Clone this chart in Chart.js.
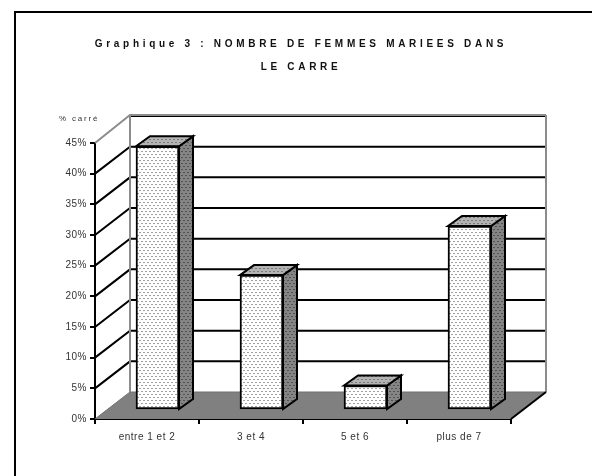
<!DOCTYPE html>
<html>
<head>
<meta charset="utf-8">
<title>Graphique 3</title>
<script src="https://cdn.jsdelivr.net/npm/chart.js@4"></script>
<style>
  html, body { margin: 0; background: #fff; }
  canvas { display: block; }
</style>
</head>
<body>
<canvas id="chart" width="592" height="476"></canvas>
<script>
const categories = ["entre 1 et 2", "3 et 4", "5 et 6", "plus de 7"];
const percents = [43, 22, 4, 30];
const yTickLabels = ["0%", "5%", "10%", "15%", "20%", "25%", "30%", "35%", "40%", "45%"];
const titleLines = ["Graphique 3 : NOMBRE DE FEMMES MARIEES DANS", "LE CARRE"];
const yAxisCaption = "% carré";

// 3D look: depth of the walls, and where the bars sit inside that depth
const WALL_DX = 35, WALL_DY = -27;
const BAR_DX = 10.5, BAR_DY = -9;
const SIDE_DX = 14, SIDE_DY = -10;

// small stipple tile, used for the three bar faces
function stipple(bg, dot) {
  const tile = document.createElement("canvas");
  tile.width = 4;
  tile.height = 6;
  const c = tile.getContext("2d");
  c.fillStyle = bg;
  c.fillRect(0, 0, 4, 6);
  c.fillStyle = dot;
  c.fillRect(1, 1, 1, 1);
  c.fillRect(3, 4, 1, 1);
  return c.createPattern(tile, "repeat");
}

const frontFill = stipple("#ffffff", "#444444");
const topFill = stipple("#b4b4b4", "#404040");
const sideFill = stipple("#858585", "#202020");

function poly(ctx, pts, fill, stroke, width) {
  ctx.beginPath();
  pts.forEach((p, i) => (i ? ctx.lineTo(p[0], p[1]) : ctx.moveTo(p[0], p[1])));
  if (fill) {
    ctx.closePath();
    ctx.fillStyle = fill;
    ctx.fill();
  }
  if (stroke) {
    ctx.strokeStyle = stroke;
    ctx.lineWidth = width;
    ctx.stroke();
  }
}

const box3d = {
  id: "box3d",
  afterInit(chart) {
    // title is spaced out much wider than the tick labels, and centred on the page not the plot
    const t = chart.titleBlock;
    const draw = t.draw.bind(t);
    t.draw = () => {
      chart.ctx.save();
      chart.ctx.letterSpacing = "3.7px";
      chart.ctx.translate(45.5, 0);
      draw();
      chart.ctx.restore();
    };
  },
  beforeDraw(chart) {
    const ctx = chart.ctx;
    ctx.letterSpacing = "0.5px";

    // outer frame, open to the right and bottom
    poly(ctx, [[15, 476], [15, 12], [592, 12]], null, "#000", 2);

    // caption above the value axis
    ctx.save();
    ctx.font = "8px 'Liberation Sans'";
    ctx.letterSpacing = "1.8px";
    ctx.fillStyle = "#333";
    ctx.textBaseline = "middle";
    ctx.fillText(yAxisCaption, 59, 119);
    ctx.restore();
  },
  beforeDatasetsDraw(chart) {
    const ctx = chart.ctx;
    const { left, right, top, bottom } = chart.chartArea;
    const y = chart.scales.y;

    // floor
    poly(ctx, [[left, bottom], [left + WALL_DX, bottom + WALL_DY],
      [right + WALL_DX, bottom + WALL_DY], [right, bottom]], "#808080");

    // lines on the side wall and back wall, one per tick
    yTickLabels.forEach((label, i) => {
      const py = y.getPixelForTick(i);
      if (i === 0) return;
      const pts = [[left, py], [left + WALL_DX, py + WALL_DY], [right + WALL_DX, py + WALL_DY]];
      if (i === yTickLabels.length - 1) {
        poly(ctx, [pts[1], pts[2]], null, "#000", 2);
      } else {
        poly(ctx, pts, null, "#000", 2);
      }
    });

    // grey wall outline
    poly(ctx, [[left, bottom], [left + WALL_DX, bottom + WALL_DY],
      [right + WALL_DX, bottom + WALL_DY]], null, "#707070", 1);
    poly(ctx, [[left + WALL_DX, bottom + WALL_DY], [left + WALL_DX, top + WALL_DY - 1]], null, "#8c8c8c", 2);
    poly(ctx, [[right + WALL_DX, bottom + WALL_DY], [right + WALL_DX, top + WALL_DY - 1]], null, "#8c8c8c", 2);
    poly(ctx, [[left, top], [left + WALL_DX, top + WALL_DY - 1], [right + WALL_DX, top + WALL_DY - 1]], null, "#8c8c8c", 2);

    // front right edge of the floor
    poly(ctx, [[right, bottom], [right + WALL_DX, bottom + WALL_DY]], null, "#000", 2);
  },
  beforeDatasetDraw(chart) {
    chart.ctx.save();
    chart.ctx.translate(BAR_DX, BAR_DY);
  },
  afterDatasetDraw(chart, args) {
    const ctx = chart.ctx;
    args.meta.data.forEach((bar) => {
      const l = bar.x - bar.width / 2, r = bar.x + bar.width / 2;
      const t = bar.y, b = bar.base;
      poly(ctx, [[r, t], [r + SIDE_DX, t + SIDE_DY], [r + SIDE_DX, b + SIDE_DY], [r, b]], sideFill, "#000", 2);
      poly(ctx, [[l, t], [l + SIDE_DX, t + SIDE_DY], [r + SIDE_DX, t + SIDE_DY], [r, t]], topFill, "#000", 2);
    });
    ctx.restore();
  }
};

new Chart(document.getElementById("chart"), {
  type: "bar",
  plugins: [box3d],
  data: {
    labels: categories,
    datasets: [{
      data: percents,
      backgroundColor: frontFill,
      borderColor: "#000",
      borderWidth: 2,
      borderSkipped: false,
      barThickness: 43,
      clip: false
    }]
  },
  options: {
    responsive: false,
    animation: false,
    layout: { padding: { right: 81 } },
    plugins: {
      legend: { display: false },
      tooltip: { enabled: false },
      title: {
        display: true,
        text: titleLines,
        color: "#111",
        font: { family: "'Liberation Sans'", size: 10, weight: "bold", lineHeight: 2.3 },
        padding: { top: 33, bottom: 64 }
      }
    },
    scales: {
      x: {
        afterFit(scale) { scale.height = 57; },
        border: { color: "#000", width: 2 },
        grid: { drawOnChartArea: false, color: "#000", lineWidth: 2, tickLength: 5 },
        ticks: { color: "#333", padding: 7, maxRotation: 0, font: { family: "'Liberation Sans'", size: 10 } }
      },
      y: {
        min: 0,
        max: 45,
        afterFit(scale) { scale.width = 95; },
        border: { color: "#000", width: 2 },
        grid: { drawOnChartArea: false, color: "#000", lineWidth: 2, tickLength: 5 },
        ticks: {
          stepSize: 5,
          color: "#333",
          padding: 3,
          font: { family: "'Liberation Sans'", size: 10 },
          callback: (v, i) => yTickLabels[i]
        }
      }
    }
  }
});
</script>
</body>
</html>
